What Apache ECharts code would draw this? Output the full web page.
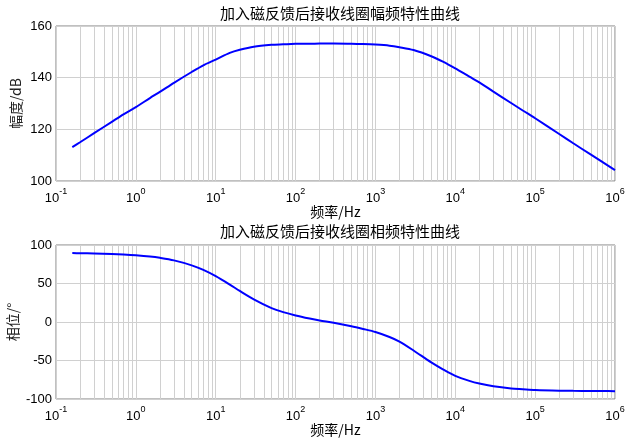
<!DOCTYPE html>
<html>
<head>
<meta charset="utf-8">
<script src="https://cdn.jsdelivr.net/npm/echarts@6/dist/echarts.min.js"></script>
<style>html,body{margin:0;padding:0;background:#fff;}#c{width:628px;height:442px;}</style>
</head>
<body>
<div id="c"></div>
<script>
// Frequencies (Hz)
var freq = [0.16, 0.2, 0.3, 0.5, 0.7, 1, 1.5, 2, 3, 5, 7, 10, 15, 20, 30, 50, 70, 100, 150, 200, 300, 500, 700,
  1000, 1500, 2000, 3000, 5000, 7000, 10000, 15000, 20000, 30000, 50000, 70000, 100000, 200000, 300000, 500000, 700000, 1000000];
// Magnitude (dB)
var magnitude = [113.1, 115.0, 118.5, 122.9, 125.8, 128.6, 132.1, 134.5, 138.0, 142.2, 144.8, 147.0, 149.6, 150.8, 152.0, 152.7, 152.9, 153.1, 153.1, 153.2, 153.2, 153.1, 153.0,
  152.8, 152.4, 151.8, 150.7, 148.3, 146.2, 143.6, 140.4, 138.2, 134.6, 130.2, 127.3, 124.3, 118.2, 114.6, 110.2, 107.3, 104.2];
// Phase (deg)
var phase = [89.5, 89.3, 89.0, 88.3, 87.6, 86.6, 85.0, 83.3, 80.0, 73.6, 67.6, 59.5, 48.6, 40.3, 29.4, 18.0, 12.8, 8.5, 4.5, 2.0, -1.0, -5.5, -9.0,
  -13.0, -19.5, -25.5, -37.0, -52.5, -61.5, -70.0, -76.5, -80.0, -83.5, -86.3, -87.3, -88.3, -89.2, -89.4, -89.6, -89.7, -89.8];
// Tick labels
var xTickExp = ['-1', '0', '1', '2', '3', '4', '5', '6'];
var magTicks = [100, 120, 140, 160];
var phaseTicks = [-100, -50, 0, 50, 100];
// Minor log grid values
var minorGrid = [];
[0.1, 1, 10, 100, 1000, 10000, 100000].forEach(function (d) {
  [2, 3, 4, 5, 6, 7, 8, 9].forEach(function (m) { minorGrid.push(+(d * m).toPrecision(6)); });
});
var titles = ['加入磁反馈后接收线圈幅频特性曲线', '加入磁反馈后接收线圈相频特性曲线'];
var xName = '频率/Hz';
var yNames = ['幅度/dB', '相位/°'];

var GRID = '#d0d0d0';
var SANS = '"Liberation Sans", Arial, "Noto Sans CJK SC", sans-serif';
var CJK = '"Noto Sans CJK SC", "Liberation Sans", sans-serif';

function xAxisDef(idx) {
  return {
    type: 'log', logBase: 10, gridIndex: idx, min: 0.1, max: 1000000, splitNumber: 7,
    name: xName, nameLocation: 'middle', nameGap: 24, nameMoveOverlap: false,
    nameTextStyle: { fontFamily: CJK, fontSize: 14, color: '#000' },
    axisLine: { show: false }, axisTick: { show: false },
    splitLine: { show: true, lineStyle: { color: GRID, width: 1 } },
    axisLabel: {
      margin: 6,
      formatter: function (v) {
        var e = xTickExp[Math.round(Math.log(v) / Math.LN10) + 1];
        return '{b|10}{s|' + e + '}';
      },
      rich: {
        b: { fontFamily: SANS, fontSize: 13, lineHeight: 18, verticalAlign: 'bottom', color: '#000' },
        s: { fontFamily: SANS, fontSize: 9, lineHeight: 10, verticalAlign: 'top', color: '#000' }
      }
    }
  };
}
function yAxisDef(idx, ticks, name, gap) {
  return {
    type: 'value', gridIndex: idx, min: ticks[0], max: ticks[ticks.length - 1],
    interval: ticks[1] - ticks[0],
    name: name, nameLocation: 'middle', nameGap: gap, nameRotate: 90, nameMoveOverlap: false,
    nameTextStyle: { fontFamily: CJK, fontSize: 14, color: '#222' },
    axisLine: { show: false }, axisTick: { show: false },
    splitLine: { show: true, lineStyle: { color: GRID, width: 1 } },
    axisLabel: { margin: 4, fontFamily: SANS, fontSize: 13, color: '#000' }
  };
}
function minorSeries(idx) {
  return {
    type: 'line', xAxisIndex: idx, yAxisIndex: idx, data: [], silent: true, z: 1,
    markLine: {
      silent: true, symbol: ['none', 'none'], animation: false, z: 1,
      label: { show: false },
      lineStyle: { color: GRID, width: 1, type: 'solid' },
      emphasis: { disabled: true },
      data: minorGrid.map(function (v) { return { xAxis: v }; })
    }
  };
}

var chart = echarts.init(document.getElementById('c'), null, { renderer: 'canvas' });
chart.setOption({
  animation: false,
  backgroundColor: '#fff',
  title: [
    { text: titles[0], left: 335, top: 1, textAlign: 'center',
      textStyle: { fontFamily: CJK, fontSize: 15, fontWeight: 'normal', color: '#000' } },
    { text: titles[1], left: 335, top: 219, textAlign: 'center',
      textStyle: { fontFamily: CJK, fontSize: 15, fontWeight: 'normal', color: '#000' } }
  ],
  grid: [
    { left: 56, top: 26, width: 559, height: 155, show: true, borderColor: '#808080', borderWidth: 1,
      containLabel: false, outerBoundsMode: 'none' },
    { left: 56, top: 245, width: 559, height: 154, show: true, borderColor: '#808080', borderWidth: 1,
      containLabel: false, outerBoundsMode: 'none' }
  ],
  xAxis: [xAxisDef(0), xAxisDef(1)],
  yAxis: [yAxisDef(0, magTicks, yNames[0], 33), yAxisDef(1, phaseTicks, yNames[1], 36)],
  series: [
    minorSeries(0), minorSeries(1),
    { type: 'line', xAxisIndex: 0, yAxisIndex: 0, z: 5, showSymbol: false, smooth: 0.3,
      lineStyle: { color: '#0000ff', width: 2 },
      data: freq.map(function (f, i) { return [f, magnitude[i]]; }) },
    { type: 'line', xAxisIndex: 1, yAxisIndex: 1, z: 5, showSymbol: false, smooth: 0.3,
      lineStyle: { color: '#0000ff', width: 2 },
      data: freq.map(function (f, i) { return [f, phase[i]]; }) }
  ]
});
</script>
</body>
</html>
